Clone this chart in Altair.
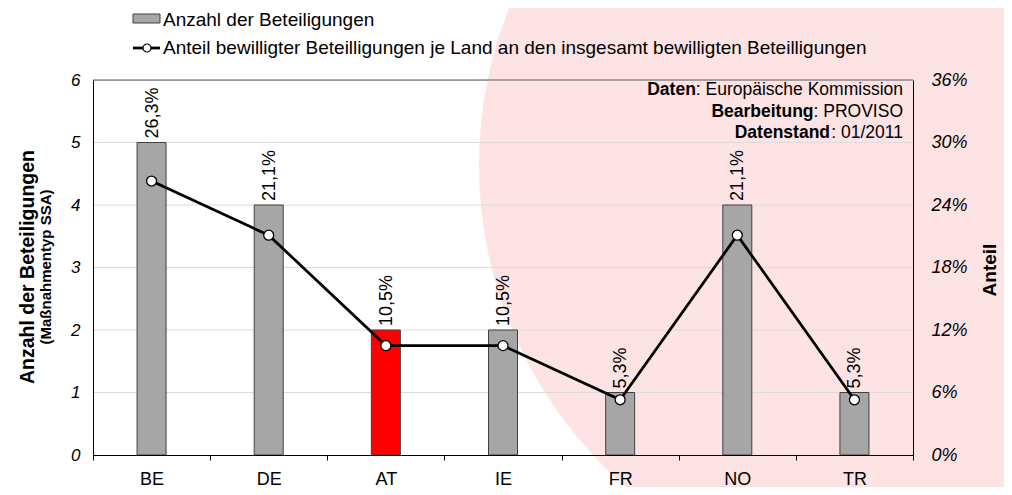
import altair as alt
import pandas as pd

# ---------------- data ----------------
lands = ["BE", "DE", "AT", "IE", "FR", "NO", "TR"]
counts = [5, 4, 2, 2, 1, 4, 1]
shares = [0.263, 0.211, 0.105, 0.105, 0.053, 0.211, 0.053]
share_labels = ["26,3%", "21,1%", "10,5%", "10,5%", "5,3%", "21,1%", "5,3%"]
left_ticks = [0, 1, 2, 3, 4, 5, 6]
right_ticks = [0, 0.06, 0.12, 0.18, 0.24, 0.30, 0.36]
grid_values = [1, 2, 3, 4, 5]

legend_bar = "Anzahl der Beteiligungen"
legend_line = "Anteil bewilligter Beteilligungen je Land an den insgesamt bewilligten Beteilligungen"
y_title = "Anzahl der Beteiligungen"
y_subtitle = "(Maßnahmentyp SSA)"
y2_title = "Anteil"
info_bold = ["Daten", "Bearbeitung", "Datenstand"]
info_regular = [": Europäische Kommission", ": PROVISO", ": 01/2011"]

df = pd.DataFrame({"land": lands, "count": counts, "share": shares, "label": share_labels})
grid_df = pd.DataFrame({"count": grid_values})
one = pd.DataFrame({"d": [0]})

FONT = "Liberation Sans"
W, H = 820, 375
INFO_SIZE = 17.5
LEG_SIZE = 19

# Arial/Liberation Sans advance widths (1/1000 em) for right-aligning mixed-weight text
ARIAL = {':': 278, ' ': 278, 'E': 667, 'u': 556, 'r': 333, 'o': 556, 'p': 556, 'ä': 556,
         'i': 222, 's': 500, 'c': 500, 'h': 556, 'e': 556, 'K': 667, 'm': 833, 'n': 556,
         'P': 667, 'R': 722, 'O': 778, 'V': 667, 'I': 278, 'S': 667, '0': 556, '1': 556,
         '2': 556, '/': 278}


def text_w(s, size):
    return sum(ARIAL.get(ch, 556) for ch in s) * size / 1000.0


x_enc = alt.X(
    "land:N", sort=lands,
    scale=alt.Scale(paddingInner=0, paddingOuter=0),
    axis=alt.Axis(title=None, labelAngle=0, labelFont=FONT, labelFontSize=18,
                  labelColor="black", labelPadding=10, tickSize=5, tickBand="extent",
                  tickColor="black", domainColor="black", grid=False, zindex=1),
)

count_scale = alt.Scale(domain=[0, 6], nice=False)
share_scale = alt.Scale(domain=[0, 0.36], nice=False)
count_axis = alt.Axis(values=left_ticks, title=None, labelFont=FONT, labelFontSize=17,
                      labelFontStyle="italic", labelColor="black", labelPadding=13,
                      ticks=False, grid=False, domainColor="black", zindex=1)

# background decoration (large pink disc), radius ~426 px
disc = alt.Chart(one).mark_circle(size=(2 * 426) ** 2, color="#fde3e3", opacity=1).encode(
    x=alt.value(812), y=alt.value(85))

# ---------------- left (count) layer ----------------
grid = alt.Chart(grid_df).mark_rule(color="#dcdcdc", strokeWidth=1).encode(
    y=alt.Y("count:Q", scale=count_scale, axis=count_axis))
top_frame = alt.Chart(one).mark_rule(color="#595959", strokeWidth=1).encode(y=alt.value(0))

bars = alt.Chart(df).mark_bar(size=29, stroke="#404040", strokeWidth=1).encode(
    x=x_enc,
    y=alt.Y("count:Q", scale=count_scale, axis=count_axis),
    color=alt.condition(alt.datum.land == "AT", alt.value("#ff0000"), alt.value("#a6a6a6")),
)
labels = alt.Chart(df).mark_text(angle=270, align="left", baseline="middle", dx=4, dy=1,
                                 font=FONT, fontSize=18, color="black").encode(
    x=alt.X("land:N", sort=lands),
    y=alt.Y("count:Q", scale=count_scale, axis=count_axis), text="label:N")

left_layer = alt.layer(grid, top_frame, bars, labels)

# ---------------- right (share) layer ----------------
share_axis = alt.Axis(orient="right", values=right_ticks, format=".0%", title=None,
                      labelFont=FONT, labelFontSize=18, labelFontStyle="italic",
                      labelColor="black", labelPadding=18, ticks=False, grid=False,
                      domainColor="black", zindex=1)
line = alt.Chart(df).mark_line(color="black", strokeWidth=2.75).encode(
    x=alt.X("land:N", sort=lands),
    y=alt.Y("share:Q", scale=share_scale, axis=share_axis),
)
points = alt.Chart(df).mark_point(filled=True, fill="white", stroke="black", strokeWidth=1.3,
                                  size=100, opacity=1, shape="circle").encode(
    x=alt.X("land:N", sort=lands),
    y=alt.Y("share:Q", scale=share_scale, axis=share_axis))
right_layer = alt.layer(line, points)

# ---------------- legend ----------------
leg_rect = alt.Chart(one).mark_rect(fill="#a6a6a6", stroke="#404040", strokeWidth=1).encode(
    x=alt.value(40), x2=alt.value(67), y=alt.value(-66), y2=alt.value(-57))
leg_text1 = alt.Chart(one).mark_text(align="left", baseline="middle", font=FONT,
                                     fontSize=LEG_SIZE, color="black").encode(
    x=alt.value(70), y=alt.value(-60), text=alt.value(legend_bar))
leg_line = alt.Chart(one).mark_rule(color="black", strokeWidth=2.75).encode(
    x=alt.value(40), x2=alt.value(67), y=alt.value(-32))
leg_pt = alt.Chart(one).mark_point(filled=True, fill="white", stroke="black", strokeWidth=1.2,
                                   size=64, opacity=1, shape="circle").encode(
    x=alt.value(54), y=alt.value(-32))
leg_text2 = alt.Chart(one).mark_text(align="left", baseline="middle", font=FONT,
                                     fontSize=LEG_SIZE, color="black").encode(
    x=alt.value(70), y=alt.value(-32), text=alt.value(legend_line))

# ---------------- axis titles ----------------
t_left = alt.Chart(one).mark_text(angle=270, align="center", baseline="middle", font=FONT,
                                  fontSize=19.5, fontWeight="bold", color="black").encode(
    x=alt.value(-65), y=alt.value(187), text=alt.value(y_title))
t_left2 = alt.Chart(one).mark_text(angle=270, align="center", baseline="middle", font=FONT,
                                   fontSize=15, fontWeight="bold", color="black").encode(
    x=alt.value(-47), y=alt.value(187), text=alt.value(y_subtitle))
t_right = alt.Chart(one).mark_text(angle=270, align="center", baseline="middle", font=FONT,
                                   fontSize=19, fontWeight="bold", color="black").encode(
    x=alt.value(897), y=alt.value(190), text=alt.value(y2_title))

# ---------------- info box ----------------
info_layers = []
info_y = [10, 32, 53]
RIGHT_EDGE = 810
for b, r, yy in zip(info_bold, info_regular, info_y):
    info_layers.append(alt.Chart(one).mark_text(
        align="right", baseline="middle", font=FONT, fontSize=INFO_SIZE, color="black").encode(
        x=alt.value(RIGHT_EDGE), y=alt.value(yy), text=alt.value(r)))
    info_layers.append(alt.Chart(one).mark_text(
        align="right", baseline="middle", font=FONT, fontSize=INFO_SIZE, fontWeight="bold",
        color="black").encode(
        x=alt.value(RIGHT_EDGE - text_w(r, INFO_SIZE)), y=alt.value(yy), text=alt.value(b)))

chart = alt.layer(
    disc, left_layer, right_layer,
    leg_rect, leg_text1, leg_line, leg_pt, leg_text2,
    t_left, t_left2, t_right, *info_layers,
).resolve_scale(y="independent").properties(
    width=W, height=H,
    autosize=alt.AutoSizeParams(type="none"),
    padding={"left": 85, "top": 72, "right": 91, "bottom": 32},
).configure_view(stroke=None).configure(background="white")

chart.save("out.html", embed_options={"renderer": "svg", "actions": False})
